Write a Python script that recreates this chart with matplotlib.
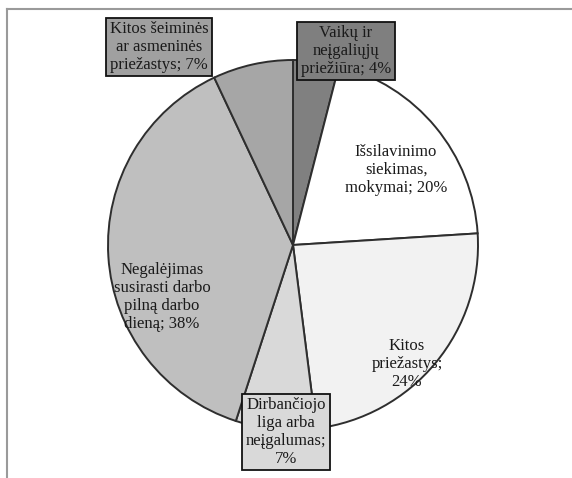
import matplotlib
matplotlib.use("Agg")
import matplotlib.pyplot as plt

categories = ["Vaikų ir neįgaliųjų priežiūra", "Išsilavinimo siekimas, mokymai",
              "Kitos priežastys", "Dirbančiojo liga arba neįgalumas",
              "Negalėjimas susirasti darbo pilną darbo dieną", "Kitos šeiminės ar asmeninės priežastys"]
values = [4, 20, 24, 7, 38, 7]
label_texts = ["Vaikų ir\nneįgaliųjų\npriežiūra; 4%",
               "Išsilavinimo\nsiekimas,\nmokymai; 20%",
               "Kitos\npriežastys;\n24%",
               "Dirbančiojo\nliga arba\nneįgalumas;\n7%",
               "Negalėjimas\nsusirasti darbo\npilną darbo\ndieną; 38%",
               "Kitos šeiminės\nar asmeninės\npriežastys; 7%"]
colors = ["#808080", "#ffffff", "#f2f2f2", "#d9d9d9", "#bfbfbf", "#a6a6a6"]
box_colors = ["#7f7f7f", None, None, "#d9d9d9", None, "#a0a0a0"]

plt.rcParams['font.family'] = ['Liberation Serif', 'DejaVu Serif']

W, H = 572, 478
fig = plt.figure(figsize=(W / 100, H / 100), dpi=100)
fig.patch.set_facecolor("white")

# frame lines (top and left)
fig.add_artist(plt.Line2D([7 / W, 1.0], [1 - 9 / H, 1 - 9 / H], color="#9a9a9a", lw=1.5))
fig.add_artist(plt.Line2D([7 / W, 7 / W], [0, 1 - 9 / H], color="#9a9a9a", lw=1.5))

cx, cy, r = 293, 245, 185
ax = fig.add_axes([(cx - r) / W, (H - cy - r) / H, 2 * r / W, 2 * r / H])
wedges, _ = ax.pie(values, colors=colors, startangle=90, counterclock=False,
                   radius=1, wedgeprops=dict(edgecolor="#2e2e2e", linewidth=1.4))
ax.set_xlim(-1, 1)
ax.set_ylim(-1, 1)
ax.set_aspect("equal")
ax.axis("off")

def px(x, y):
    return (x - cx) / r, (cy - y) / r

positions = [(346, 51), (396, 170), (407, 364), (286, 432), (162, 297), (159, 47)]
for txt, pos, bc in zip(label_texts, positions, box_colors):
    x, y = px(*pos)
    kw = {}
    if bc is not None:
        kw["bbox"] = dict(boxstyle="square,pad=0.22", facecolor=bc, edgecolor="#111111", linewidth=1.3)
    ax.text(x, y, txt, ha="center", va="center", fontsize=12, color="#1a1a1a",
            linespacing=1.15, clip_on=False, **kw)

fig.savefig("out.png", dpi=100)
